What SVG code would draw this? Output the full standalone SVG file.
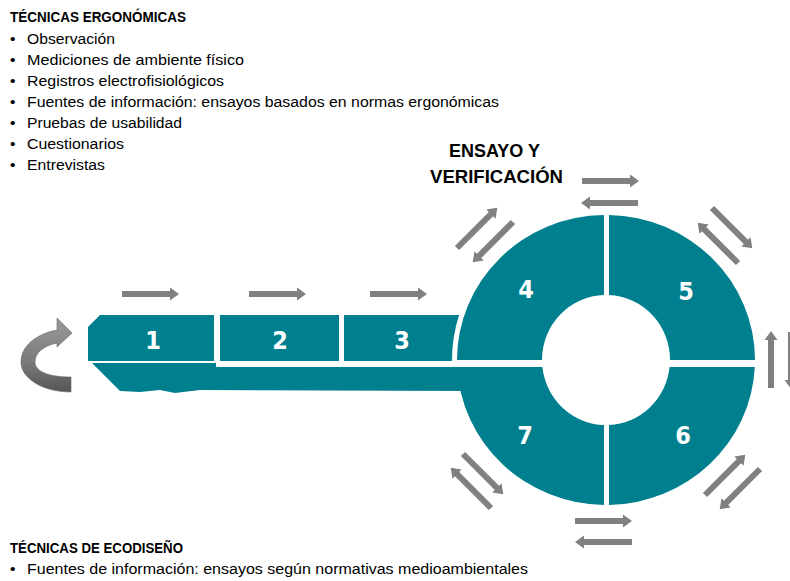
<svg xmlns="http://www.w3.org/2000/svg" xmlns:xlink="http://www.w3.org/1999/xlink" width="790" height="581" viewBox="0 0 790 581">
<style>
.txt{font-family:"Liberation Sans",Arial,sans-serif;font-size:15.5px;fill:#000}
.hd{font-family:"Liberation Sans",Arial,sans-serif;font-size:14px;font-weight:bold;fill:#000}
.big{font-family:"Liberation Sans",Arial,sans-serif;font-size:18.5px;font-weight:bold;fill:#000}
.teal{fill:#00808F}
.num{font-family:"DejaVu Sans Condensed","DejaVu Sans",sans-serif;font-size:25px;font-weight:bold;fill:#fff;text-anchor:middle}
.arr{fill:#808080}
</style>
<defs>
<path id="a" d="M0,-3 L48,-3 L48,-6.5 L57,0 L48,6.5 L48,3 L0,3 Z"/>
<linearGradient id="g" x1="0" y1="0" x2="0" y2="1">
<stop offset="0" stop-color="#9a9a9a"/>
<stop offset="0.6" stop-color="#7a7a7a"/>
<stop offset="1" stop-color="#555"/>
</linearGradient>
</defs>

<g id="text-ergo">
<text class="hd" x="10" y="22" textLength="176" lengthAdjust="spacingAndGlyphs">TÉCNICAS ERGONÓMICAS</text>
<text class="txt" x="10" y="44">•</text><text class="txt" x="27" y="44" textLength="88" lengthAdjust="spacingAndGlyphs">Observación</text>
<text class="txt" x="10" y="65">•</text><text class="txt" x="27" y="65" textLength="217" lengthAdjust="spacingAndGlyphs">Mediciones de ambiente físico</text>
<text class="txt" x="10" y="86">•</text><text class="txt" x="27" y="86" textLength="197" lengthAdjust="spacingAndGlyphs">Registros electrofisiológicos</text>
<text class="txt" x="10" y="107">•</text><text class="txt" x="27" y="107" textLength="472" lengthAdjust="spacingAndGlyphs">Fuentes de información: ensayos basados en normas ergonómicas</text>
<text class="txt" x="10" y="128">•</text><text class="txt" x="27" y="128" textLength="155" lengthAdjust="spacingAndGlyphs">Pruebas de usabilidad</text>
<text class="txt" x="10" y="149">•</text><text class="txt" x="27" y="149" textLength="97" lengthAdjust="spacingAndGlyphs">Cuestionarios</text>
<text class="txt" x="10" y="170">•</text><text class="txt" x="27" y="170" textLength="78" lengthAdjust="spacingAndGlyphs">Entrevistas</text>
</g>

<g id="text-ensayo">
<text class="big" x="449" y="157" textLength="91" lengthAdjust="spacingAndGlyphs">ENSAYO Y</text>
<text class="big" x="430" y="183" textLength="133" lengthAdjust="spacingAndGlyphs">VERIFICACIÓN</text>
</g>

<g id="text-eco">
<text class="hd" x="10" y="553" textLength="173" lengthAdjust="spacingAndGlyphs">TÉCNICAS DE ECODISEÑO</text>
<text class="txt" x="10" y="574">•</text><text class="txt" x="27" y="574" textLength="501" lengthAdjust="spacingAndGlyphs">Fuentes de información: ensayos según normativas medioambientales</text>
</g>

<g id="key-shaft">
<path class="teal" d="M92,363 L216,363 L216,367 L500,367 L500,390 L470,391 L200,390 L175,393 L160,390 L140,392 L120,391 Z"/>
</g>

<g id="node-1">
<path class="teal" d="M100,315 L214,315 L214,361 L88,361 L88,327 Z"/>
<text class="num" x="153" y="349">1</text>
</g>
<g id="node-2">
<rect class="teal" x="220" y="315" width="119" height="46"/>
<text class="num" x="280" y="349">2</text>
</g>
<g id="node-3">
<path class="teal" d="M344,315 L459.1,315 A154,150 0 0 0 452,361 L344,361 Z"/>
<text class="num" x="402" y="349">3</text>
</g>
<g id="node-4">
<path class="teal" d="M457,360 A149,145 0 0 1 604,215 L604,295 A64,65 0 0 0 542,360 Z"/>
<text class="num" x="526" y="298">4</text>
</g>
<g id="node-5">
<path class="teal" d="M609,215 A149,145 0 0 1 755,360 L670,360 A64,65 0 0 0 609,295 Z"/>
<text class="num" x="686" y="300">5</text>
</g>
<g id="node-6">
<path class="teal" d="M754.8,367 A149,145 0 0 1 609,505 L609,425 A64,65 0 0 0 669.6,367 Z"/>
<text class="num" x="683" y="444">6</text>
</g>
<g id="node-7">
<path class="teal" d="M604,505 A149,145 0 0 1 457.2,367 L542.4,367 A64,65 0 0 0 604,425 Z"/>
<text class="num" x="525" y="444">7</text>
</g>

<g id="connectors" class="arr">
<path fill="url(#g)" stroke="#666" stroke-width="0.6" d="M71,392 C42,392 21,378 21,362 C21,346 36,334 57,330 L57,318 L72,333 L57,347 L57,343 C43,346 35,353 35,362 C35,372 50,377 71,377 Z"/>
<use xlink:href="#a" href="#a" transform="translate(122,294)"/>
<use xlink:href="#a" href="#a" transform="translate(249,294)"/>
<use xlink:href="#a" href="#a" transform="translate(370,294)"/>
<use xlink:href="#a" href="#a" transform="translate(582,181)"/>
<use xlink:href="#a" href="#a" transform="translate(638,203) rotate(180)"/>
<use xlink:href="#a" href="#a" transform="translate(457,248) rotate(-45)"/>
<use xlink:href="#a" href="#a" transform="translate(513,222) rotate(135)"/>
<use xlink:href="#a" href="#a" transform="translate(712,208) rotate(45)"/>
<use xlink:href="#a" href="#a" transform="translate(738,263) rotate(-135)"/>
<use xlink:href="#a" href="#a" transform="translate(771,388) rotate(-90)"/>
<use xlink:href="#a" href="#a" transform="translate(791,332) rotate(90)"/>
<use xlink:href="#a" href="#a" transform="translate(705,495) rotate(-45)"/>
<use xlink:href="#a" href="#a" transform="translate(760,469) rotate(135)"/>
<use xlink:href="#a" href="#a" transform="translate(463,454) rotate(45)"/>
<use xlink:href="#a" href="#a" transform="translate(491,508) rotate(-135)"/>
<use xlink:href="#a" href="#a" transform="translate(575,521)"/>
<use xlink:href="#a" href="#a" transform="translate(632,542) rotate(180)"/>
</g>
</svg>
